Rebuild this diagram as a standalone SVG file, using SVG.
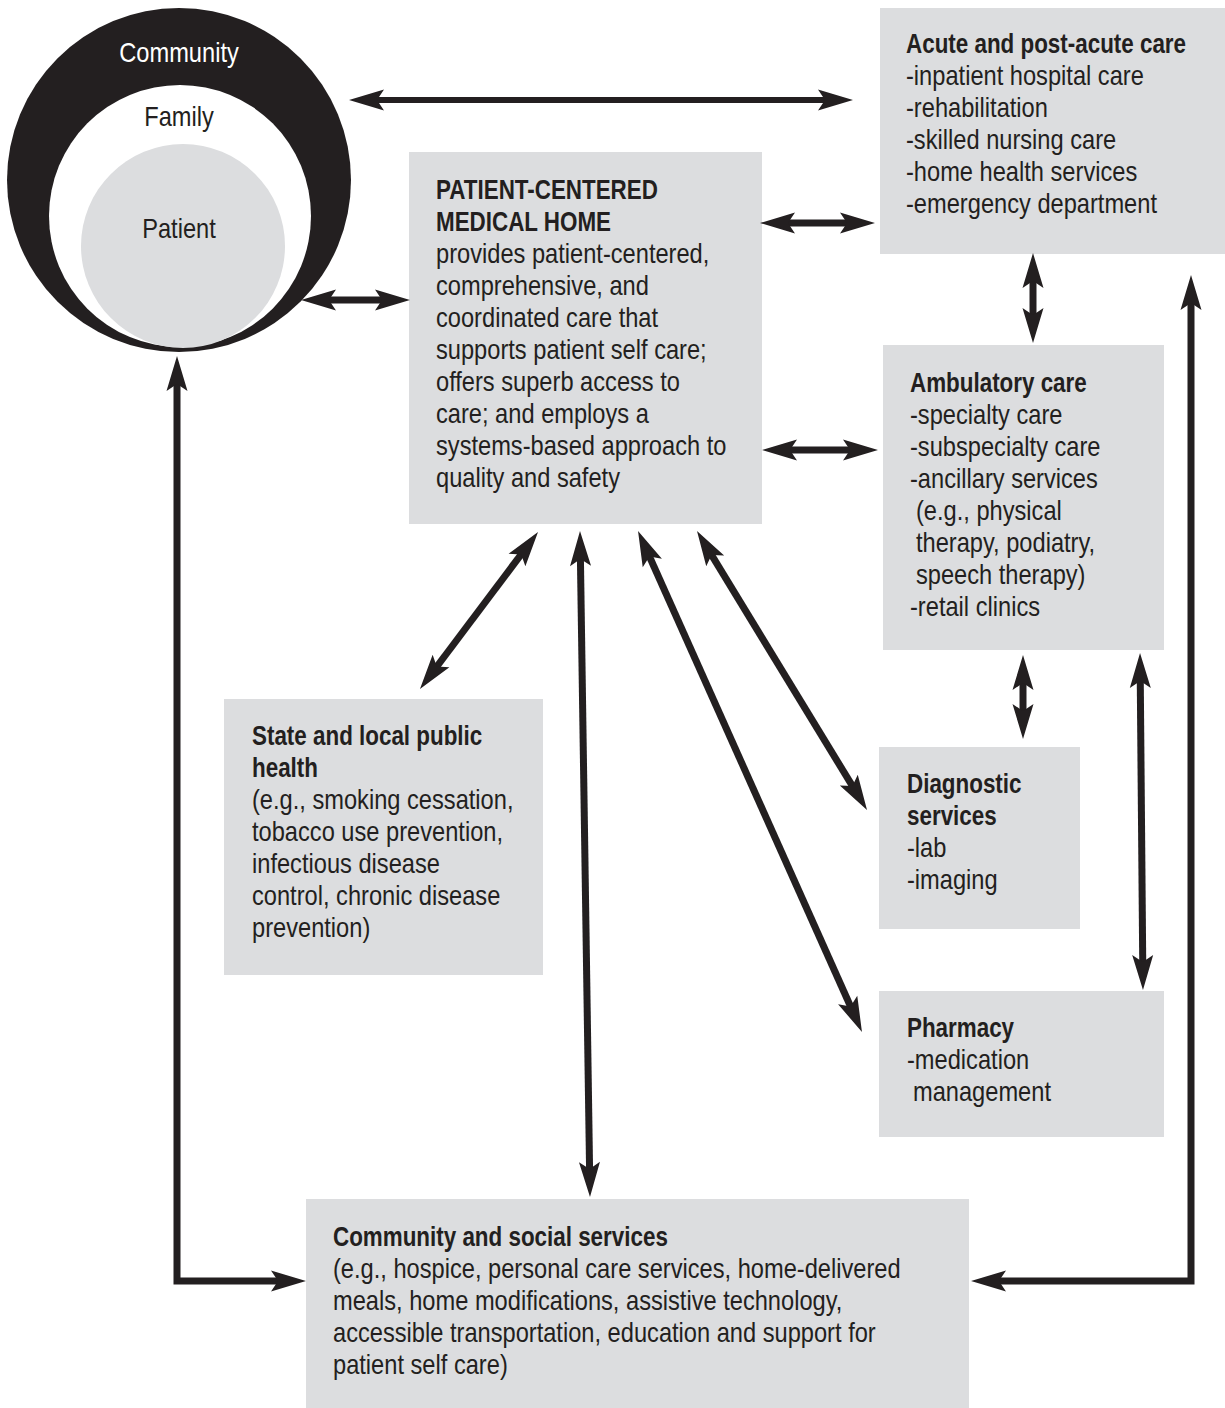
<svg xmlns="http://www.w3.org/2000/svg" width="1225" height="1408" viewBox="0 0 1225 1408">
<style>
.box{fill:#dcdddf}
.t{font-family:"Liberation Sans",Arial,sans-serif;font-size:28.5px;fill:#231f20}
.b{font-weight:bold;font-size:27px}
.c{stroke:#231f20;stroke-width:7;fill:none;stroke-linejoin:miter}
</style>
<defs>
<marker id="ah" viewBox="-37 -12 39 24" refX="-20" refY="0" markerWidth="39" markerHeight="24" markerUnits="userSpaceOnUse" orient="auto-start-reverse">
<path d="M0 0 L-35 -10.5 L-28 0 L-35 10.5 Z" fill="#231f20"/>
</marker>
</defs>
<rect width="1225" height="1408" fill="#ffffff"/>

<g id="circles">
<circle cx="179" cy="180" r="172" fill="#231f20"/>
<circle cx="180" cy="216" r="131" fill="#ffffff"/>
<circle cx="183" cy="246" r="102" fill="#dcdddf"/>
<text class="t" transform="translate(179 0) scale(0.83 1)" x="0" y="62" text-anchor="middle" style="fill:#ffffff">Community</text>
<text class="t" transform="translate(179 0) scale(0.83 1)" x="0" y="126" text-anchor="middle">Family</text>
<text class="t" transform="translate(179 0) scale(0.83 1)" x="0" y="238" text-anchor="middle">Patient</text>
</g>

<g id="acute">
<rect class="box" x="880" y="8" width="345" height="246"/>
<text class="t" transform="translate(906 0) scale(0.83 1)"><tspan class="b" x="0" y="53">Acute and post-acute care</tspan><tspan x="0" y="85">-inpatient hospital care</tspan><tspan x="0" y="117">-rehabilitation</tspan><tspan x="0" y="149">-skilled nursing care</tspan><tspan x="0" y="181">-home health services</tspan><tspan x="0" y="213">-emergency department</tspan></text>
</g>

<g id="pcmh">
<rect class="box" x="409" y="152" width="353" height="372"/>
<text class="t" transform="translate(436 0) scale(0.83 1)"><tspan class="b" x="0" y="199">PATIENT-CENTERED</tspan><tspan class="b" x="0" y="231">MEDICAL HOME</tspan><tspan x="0" y="263">provides patient-centered,</tspan><tspan x="0" y="295">comprehensive, and</tspan><tspan x="0" y="327">coordinated care that</tspan><tspan x="0" y="359">supports patient self care;</tspan><tspan x="0" y="391">offers superb access to</tspan><tspan x="0" y="423">care; and employs a</tspan><tspan x="0" y="455">systems-based approach to</tspan><tspan x="0" y="487">quality and safety</tspan></text>
</g>

<g id="ambulatory">
<rect class="box" x="883" y="345" width="281" height="305"/>
<text class="t" transform="translate(910 0) scale(0.83 1)"><tspan class="b" x="0" y="392">Ambulatory care</tspan><tspan x="0" y="424">-specialty care</tspan><tspan x="0" y="456">-subspecialty care</tspan><tspan x="0" y="488">-ancillary services</tspan><tspan x="7.2" y="520">(e.g., physical</tspan><tspan x="7.2" y="552">therapy, podiatry,</tspan><tspan x="7.2" y="584">speech therapy)</tspan><tspan x="0" y="616">-retail clinics</tspan></text>
</g>

<g id="diagnostic">
<rect class="box" x="879" y="747" width="201" height="182"/>
<text class="t" transform="translate(907 0) scale(0.83 1)"><tspan class="b" x="0" y="793">Diagnostic</tspan><tspan class="b" x="0" y="825">services</tspan><tspan x="0" y="857">-lab</tspan><tspan x="0" y="889">-imaging</tspan></text>
</g>

<g id="pharmacy">
<rect class="box" x="879" y="991" width="285" height="146"/>
<text class="t" transform="translate(907 0) scale(0.83 1)"><tspan class="b" x="0" y="1037">Pharmacy</tspan><tspan x="0" y="1069">-medication</tspan><tspan x="7.2" y="1101">management</tspan></text>
</g>

<g id="public-health">
<rect class="box" x="224" y="699" width="319" height="276"/>
<text class="t" transform="translate(252 0) scale(0.83 1)"><tspan class="b" x="0" y="745">State and local public</tspan><tspan class="b" x="0" y="777">health</tspan><tspan x="0" y="809">(e.g., smoking cessation,</tspan><tspan x="0" y="841">tobacco use prevention,</tspan><tspan x="0" y="873">infectious disease</tspan><tspan x="0" y="905">control, chronic disease</tspan><tspan x="0" y="937">prevention)</tspan></text>
</g>

<g id="community-services">
<rect class="box" x="306" y="1199" width="663" height="209"/>
<text class="t" transform="translate(333 0) scale(0.83 1)"><tspan class="b" x="0" y="1246">Community and social services</tspan><tspan x="0" y="1278">(e.g., hospice, personal care services, home-delivered</tspan><tspan x="0" y="1310">meals, home modifications, assistive technology,</tspan><tspan x="0" y="1342">accessible transportation, education and support for</tspan><tspan x="0" y="1374">patient self care)</tspan></text>
</g>

<g id="connectors">
<path class="c" style="stroke-width:6" d="M369 100 L833 100" marker-start="url(#ah)" marker-end="url(#ah)"/>
<path class="c" d="M780 223 L855 223" marker-start="url(#ah)" marker-end="url(#ah)"/>
<path class="c" d="M321 300 L390 300" marker-start="url(#ah)" marker-end="url(#ah)"/>
<path class="c" d="M782 450 L858 450" marker-start="url(#ah)" marker-end="url(#ah)"/>
<path class="c" d="M1033 273 L1033 323" marker-start="url(#ah)" marker-end="url(#ah)"/>
<path class="c" d="M1023 675 L1023 719" marker-start="url(#ah)" marker-end="url(#ah)"/>
<path class="c" d="M1140.2 673 L1142.8 970" marker-start="url(#ah)" marker-end="url(#ah)"/>
<path class="c" d="M991 1281 L1191 1281 L1191 295" marker-start="url(#ah)" marker-end="url(#ah)"/>
<path class="c" d="M177 376 L177 1281 L286 1281" marker-start="url(#ah)" marker-end="url(#ah)"/>
<path class="c" d="M526 548 L432 673" marker-start="url(#ah)" marker-end="url(#ah)"/>
<path class="c" d="M580.3 551 L589.7 1177" marker-start="url(#ah)" marker-end="url(#ah)"/>
<path class="c" d="M646.2 549.3 L853.8 1013.7" marker-start="url(#ah)" marker-end="url(#ah)"/>
<path class="c" d="M707.4 548.1 L856.6 792.9" marker-start="url(#ah)" marker-end="url(#ah)"/>
</g>
</svg>
